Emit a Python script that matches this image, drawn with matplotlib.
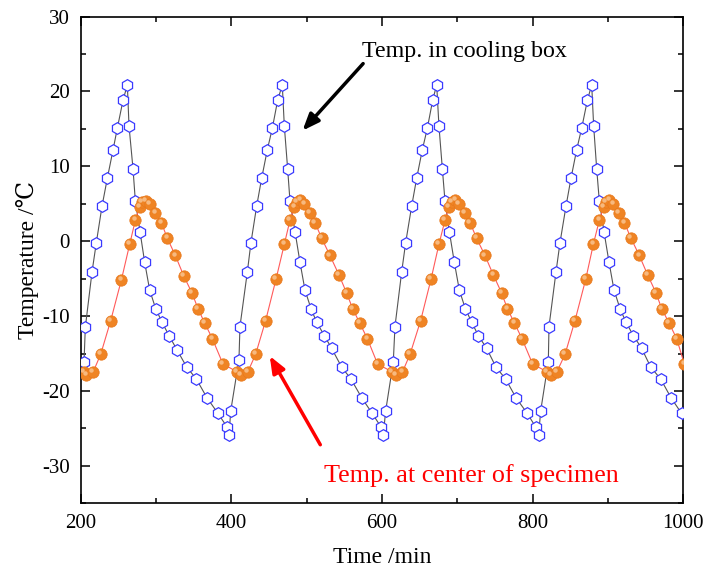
import numpy as np
import matplotlib.pyplot as plt
from matplotlib.ticker import MultipleLocator
from matplotlib import transforms

plt.rcParams['font.family'] = ['Liberation Serif', 'DejaVu Serif']
plt.rcParams['axes.unicode_minus'] = False

# Temp. in cooling box (time /min, temperature /C)
box_t = [204.4, 206.1, 215.0, 220.7, 228.3, 235.3, 242.9, 248.6, 256.1, 261.9, 264.1, 269.4, 272.5, 278.7,
         284.9, 291.5, 299.5, 307.9, 317.2, 327.8, 340.7, 353.5, 367.6, 382.3, 394.2, 396.9, 399.1,
         410.1, 411.4, 421.2, 426.0, 433.6, 440.2, 447.7, 454.4, 461.4, 467.6, 470.3, 474.7, 477.8, 484.5,
         491.1, 497.7, 505.7, 513.2, 523.4, 533.1, 546.4, 558.8, 573.0, 587.1, 598.6, 601.7, 604.8,
         615.0, 617.2, 626.1, 631.4, 639.4, 646.0, 653.5, 660.2, 667.2, 672.6, 675.6, 680.1, 683.6, 689.4,
         696.0, 702.6, 710.6, 719.0, 727.9, 738.9, 751.3, 764.1, 777.9, 792.9, 804.0, 808.0, 810.6,
         820.8, 821.7, 831.0, 836.3, 844.3, 850.9, 858.4, 865.1, 872.6, 878.4, 881.0, 885.0, 888.5, 894.7,
         901.4, 908.0, 916.0, 923.9, 933.7, 944.7, 956.7, 970.0, 983.7, 997.8]
box_temp = [-16.1, -11.5, -4.1, -0.2, 4.7, 8.4, 12.2, 15.1, 18.8, 20.9, 15.4, 9.7, 5.4, 1.3,
            -2.8, -6.5, -9.0, -10.8, -12.6, -14.5, -16.8, -18.4, -20.9, -23.0, -24.8, -25.9, -22.7,
            -15.8, -11.4, -4.1, -0.2, 4.7, 8.4, 12.2, 15.1, 18.8, 20.9, 15.4, 9.7, 5.4, 1.3,
            -2.8, -6.5, -9.0, -10.8, -12.6, -14.3, -16.8, -18.4, -20.9, -23.0, -24.8, -25.9, -22.7,
            -16.1, -11.4, -4.1, -0.2, 4.7, 8.4, 12.2, 15.1, 18.8, 20.9, 15.4, 9.7, 5.4, 1.3,
            -2.8, -6.5, -9.0, -10.8, -12.6, -14.3, -16.8, -18.4, -20.9, -23.0, -24.8, -25.9, -22.7,
            -16.1, -11.4, -4.1, -0.2, 4.7, 8.4, 12.2, 15.1, 18.8, 20.9, 15.4, 9.7, 5.4, 1.3,
            -2.8, -6.5, -9.0, -10.8, -12.6, -14.3, -16.8, -18.4, -20.9, -23.0]

# Temp. at center of specimen
spec_t = [204.4, 207.5, 216.3, 226.5, 239.8, 253.9, 265.0, 272.5, 278.3, 281.4, 286.2, 291.5, 299.1,
          307.0, 315.0, 325.6, 337.1, 347.7, 355.7, 364.5, 374.7, 388.9,
          407.0, 412.8, 421.6, 432.2, 445.5, 459.2, 470.3, 477.8, 483.6, 486.7, 491.5, 496.8, 504.4,
          511.0, 519.9, 530.9, 542.9, 553.0, 561.0, 570.3, 580.5, 594.2,
          612.8, 618.6, 627.0, 637.2, 651.3, 665.0, 675.6, 683.6, 688.9, 692.5, 697.3, 702.2, 710.2,
          716.8, 725.6, 736.7, 747.8, 758.8, 766.4, 775.7, 785.8, 800.0,
          818.6, 824.4, 831.9, 843.0, 856.2, 870.4, 880.6, 888.5, 894.3, 897.4, 901.8, 907.1, 914.6,
          921.7, 930.6, 941.6, 952.7, 963.8, 971.3, 981.0, 991.2, 1001.4]
spec_temp = [-17.5, -17.9, -17.5, -15.1, -10.6, -5.2, -0.4, 2.8, 4.6, 5.3, 5.4, 5.0, 3.8,
             2.5, 0.4, -1.9, -4.7, -6.9, -9.0, -10.9, -13.0, -16.4,
             -17.4, -17.9, -17.5, -15.1, -10.6, -5.1, -0.4, 2.8, 4.6, 5.3, 5.5, 5.0, 3.8,
             2.5, 0.4, -1.9, -4.5, -6.9, -9.0, -10.9, -13.0, -16.4,
             -17.4, -17.9, -17.5, -15.1, -10.6, -5.1, -0.4, 2.8, 4.6, 5.3, 5.5, 5.0, 3.8,
             2.5, 0.4, -1.9, -4.5, -6.9, -9.0, -10.9, -13.0, -16.4,
             -17.4, -17.9, -17.5, -15.1, -10.6, -5.1, -0.4, 2.8, 4.6, 5.3, 5.5, 5.0, 3.8,
             2.5, 0.4, -1.9, -4.5, -6.9, -9.0, -10.9, -13.0, -16.4]

fig = plt.figure(figsize=(7.05, 5.73), dpi=100)
ax = fig.add_axes([0.1145, 0.1216, 0.8547, 0.8494])

ax.plot(box_t, box_temp, color='#555555', lw=0.8, marker='h', ms=8.4,
        mfc='white', mec='#3a3aff', mew=0.9, zorder=3)

ax.plot(spec_t, spec_temp, color='#ff5a5a', lw=0.8, marker='o', ms=8.2,
        mfc='#ef8424', mec='#e8781c', mew=0.5, zorder=4)
# highlight on the spheres
hl = transforms.offset_copy(ax.transData, fig=fig, x=-1.2, y=1.4, units='points')
ax.plot(spec_t, spec_temp, ls='none', marker='o', ms=3.2, mfc='#f8c08a', mec='none',
        alpha=0.9, transform=hl, zorder=5)

ax.set_xlim(200, 1000)
ax.set_ylim(-35, 30)
ax.xaxis.set_major_locator(MultipleLocator(200))
ax.xaxis.set_minor_locator(MultipleLocator(100))
ax.yaxis.set_major_locator(MultipleLocator(10))
ax.yaxis.set_minor_locator(MultipleLocator(5))
ax.tick_params(which='both', direction='in', top=True, right=True, width=1.1, labelsize=15)
ax.tick_params(which='major', length=6.5, pad=8)
ax.tick_params(which='minor', length=3.5)
for s in ax.spines.values():
    s.set_linewidth(1.2)

ax.set_xlabel('Time /min', fontsize=17, labelpad=10)
ax.set_ylabel('Temperature /℃', fontsize=17, labelpad=2)

ax.annotate('', xy=(492, 14.5), xytext=(577.4, 24.0),
            arrowprops=dict(arrowstyle='-|>,head_length=1.0,head_width=0.4', color='black', lw=2.5))
ax.text(573, 24.6, 'Temp. in cooling box', fontsize=17.3, color='black', va='baseline', ha='left')

ax.annotate('', xy=(449.1, -15.0), xytext=(519.9, -27.5),
            arrowprops=dict(arrowstyle='-|>,head_length=1.0,head_width=0.4', color='red', lw=2.5))
ax.text(523, -32.2, 'Temp. at center of specimen', fontsize=18.8, color='red', va='baseline', ha='left')

plt.savefig('out.png', dpi=100)
